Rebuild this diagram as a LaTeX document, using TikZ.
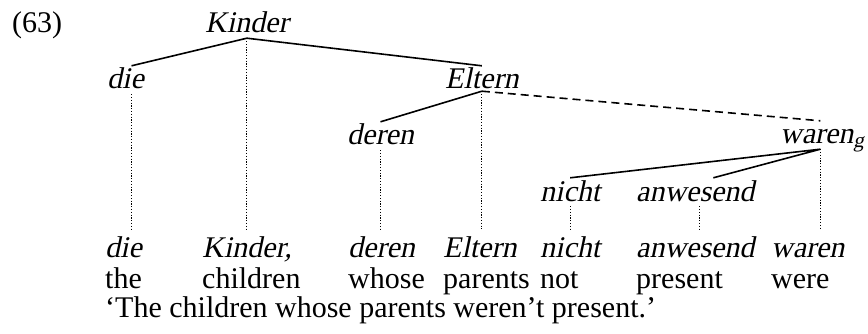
\documentclass[tikz,border=0pt]{standalone}
\usepackage{fontspec}
\setmainfont{Liberation Serif}[ItalicFont={Liberation Serif}, ItalicFeatures={FakeSlant=0.21}]
\usepackage{tikz}

\begin{document}
\begin{tikzpicture}[
    x=1pt, y=-1pt,
    every node/.style={font=\fontsize{30}{30}\selectfont, inner sep=0pt, anchor=base west},
    word/.style={font=\fontsize{30}{30}\selectfont\itshape,
                 text height=20pt, text depth=2pt, inner xsep=0pt, inner ysep=3pt},
    gloss/.style={font=\fontsize{30}{30}\selectfont\itshape},
    branch/.style={line width=1.6pt},
    proj/.style={line width=1.2pt, dash pattern=on 1.2pt off 1.6pt},
    link/.style={line width=1.6pt, dash pattern=on 8pt off 5pt}
  ]
  \useasboundingbox (0,0) rectangle (868,334);

  % Example number
  \node (num) at (12,33) {(63)};

  % Tree
  \node[word] (kinder) at (205,33)  {Kinder};
  \node[word] (die)    at (107,89)  {die};
  \node[word] (eltern) at (445,89)  {Eltern};
  \node[word] (deren)  at (347,145) {deren};
  \node[word] (waren)  at (780,144) {waren\textsubscript{g}};
  \node[word] (nicht)  at (540,201) {nicht};
  \node[word] (anw)    at (636,201) {anwesend};

  % German line
  \node[gloss] (gdie)    at (105,257) {die};
  \node[gloss] (gkinder) at (202,257) {Kinder,};
  \node[gloss] (gderen)  at (348,257) {deren};
  \node[gloss] (geltern) at (443,257) {Eltern};
  \node[gloss] (gnicht)  at (540,257) {nicht};
  \node[gloss] (ganw)    at (636,257) {anwesend};
  \node[gloss] (gwaren)  at (771,257) {waren};

  % English glosses
  \node (ethe)      at (105,288) {the};
  \node (echildren) at (202,288) {children};
  \node (ewhose)    at (348,288) {whose};
  \node (eparents)  at (443,288) {parents};
  \node (enot)      at (540,288) {not};
  \node (epresent)  at (636,288) {present};
  \node (ewere)     at (771,288) {were};

  % Translation
  \node (trans) at (105,317) {`The children whose parents weren't present.'};

  % Branches
  \coordinate (foot) at (0,229);
  \draw[branch] ([xshift=6pt]die.north) -- (kinder.south) -- (eltern.north);
  \draw[branch] (deren.north) -- ([yshift=3pt]eltern.south);
  \draw[link] ([yshift=3pt]eltern.south) -- ([xshift=-2pt]waren.north);
  \draw[branch] (nicht.north) -- ([xshift=-2pt]waren.south) -- ([xshift=18pt]anw.north);

  % Projection lines
  \draw[proj] ([xshift=6pt]die.south) -- ([xshift=6pt]die.south |- foot);
  \draw[proj] (kinder.south) -- (kinder.south |- foot);
  \draw[proj] (deren.south) -- (deren.south |- foot);
  \draw[proj] ([yshift=3pt]eltern.south) -- (eltern.south |- foot);
  \draw[proj] ([xshift=-2pt]waren.south) -- ([xshift=-2pt]waren.south |- foot);
  \draw[proj] (nicht.south) -- (nicht.south |- foot);
  \draw[proj] ([xshift=4pt]anw.south) -- ([xshift=4pt]anw.south |- foot);
\end{tikzpicture}
\end{document}
